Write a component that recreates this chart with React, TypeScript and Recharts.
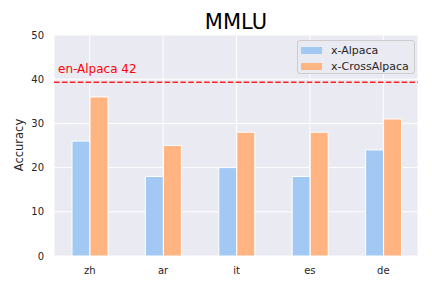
import React from 'react';
import { BarChart, Bar, XAxis, YAxis, CartesianGrid, ReferenceLine } from 'recharts';

const categories = ['zh', 'ar', 'it', 'es', 'de'];
const xAlpaca = [26, 18, 20, 18, 24];
const xCrossAlpaca = [36, 25, 28, 28, 31];
const enAlpacaValue = 39.3;
const enAlpacaLabel = 'en-Alpaca 42';
const yTicks = [0, 10, 20, 30, 40, 50];
const seriesNames = ['x-Alpaca', 'x-CrossAlpaca'];
const colors = ['#a1c9f4', '#ffb482'];

const data = categories.map((c, i) => ({
  lang: c,
  [seriesNames[0]]: xAlpaca[i],
  [seriesNames[1]]: xCrossAlpaca[i],
}));

const FONT = '"DejaVu Sans", sans-serif';
const TEXT = '#262626';

const LegendBox = () => (
  <div
    style={{
      position: 'absolute',
      left: 297,
      top: 40,
      width: 118,
      height: 34,
      background: '#eaeaf2',
      border: '1px solid #cccccc',
      borderRadius: 3,
      padding: '1px 4px 1px 3px',
      fontFamily: FONT,
      fontSize: 11,
      color: TEXT,
      boxSizing: 'border-box',
      whiteSpace: 'nowrap',
    }}
  >
    {seriesNames.map((name, i) => (
      <div key={name} style={{ display: 'flex', alignItems: 'center', height: 16 }}>
        <span
          style={{
            display: 'inline-block',
            width: 21,
            height: 7,
            background: colors[i],
            marginRight: 9,
          }}
        />
        <span>{name}</span>
      </div>
    ))}
  </div>
);

export default function App() {
  return (
    <div style={{ position: 'absolute', left: 0, top: 0, width: 432, height: 288, background: '#fff' }}>
      <BarChart
        width={432}
        height={288}
        data={data}
        margin={{ top: 35, right: 14, left: 0, bottom: 0 }}
        barGap={0}
        barSize={18}
      >
        <CartesianGrid fill="#eaeaf2" stroke="#ffffff" strokeWidth={1} />
        <XAxis
          dataKey="lang"
          height={32}
          axisLine={false}
          tickLine={false}
          tickSize={0}
          tickMargin={11}
          padding={{ left: -1, right: -2 }}
          tick={{ fill: TEXT, fontSize: 10, fontFamily: FONT }}
        />
        <YAxis
          width={54}
          domain={[0, 50]}
          ticks={yTicks}
          axisLine={false}
          tickLine={false}
          tickSize={0}
          tickMargin={10}
          tick={{ fill: TEXT, fontSize: 10, fontFamily: FONT }}
        />
        <ReferenceLine
          y={enAlpacaValue}
          stroke="#ff2020"
          strokeWidth={1.5}
          strokeDasharray="5.5 2.4"
          label={(props: any) => (
            <text
              x={props.viewBox.x + 4}
              y={props.viewBox.y - 9}
              fill="#ff0000"
              fontSize={12}
              fontFamily={FONT}
            >
              {enAlpacaLabel}
            </text>
          )}
        />
        <Bar dataKey={seriesNames[0]} fill={colors[0]} stroke="#ffffff" strokeWidth={1} isAnimationActive={false} />
        <Bar dataKey={seriesNames[1]} fill={colors[1]} stroke="#ffffff" strokeWidth={1} isAnimationActive={false} />
      </BarChart>
      <LegendBox />
      <svg
        width={432}
        height={288}
        style={{ position: 'absolute', left: 0, top: 0, pointerEvents: 'none' }}
      >
        <text x={236} y={29} textAnchor="middle" fontSize={21} fontFamily={FONT} fill="#000">
          MMLU
        </text>
        <text
          transform="translate(22.5,145) rotate(-90)"
          textAnchor="middle"
          fontSize={11.5}
          fontFamily={FONT}
          fill={TEXT}
        >
          Accuracy
        </text>
      </svg>
    </div>
  );
}
